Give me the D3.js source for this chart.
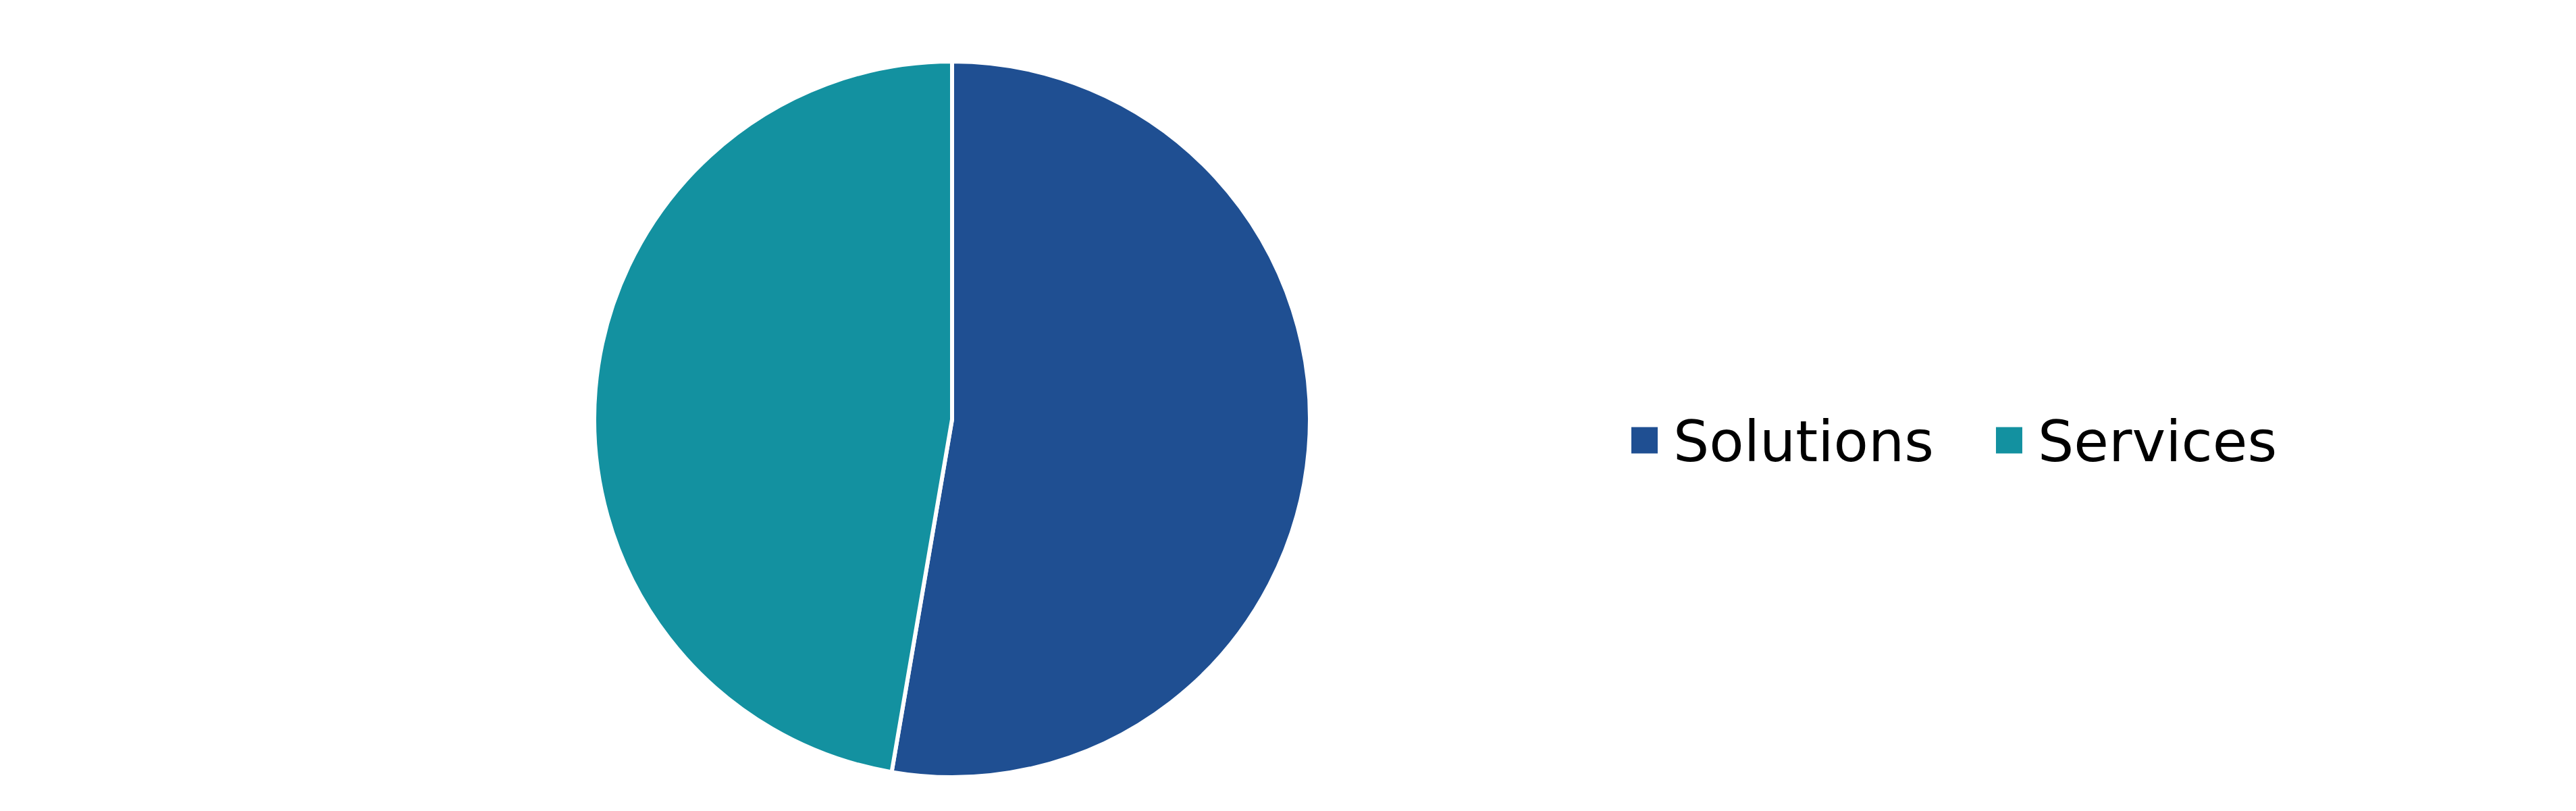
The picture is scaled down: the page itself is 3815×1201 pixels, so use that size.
<!DOCTYPE html>
<meta charset="utf-8">
<head>
  <title>Revenue split (pie)</title>
</head>

<style>
  html, body { margin: 0; padding: 0; background: #fff; }
  svg { display: block; }
</style>

<body>
  <svg width="3815" height="1201"></svg>

  <script src="https://cdn.jsdelivr.net/npm/d3@7"></script>
  <script>

var categories = ["Solutions", "Services"];
var shares = [52.7, 47.3];
var colors = ["#1f4f92", "#1391a0"];

var svg = d3.select("svg");

// pie sits left of centre, legend to the right
var cx = 1410, cy = 621, radius = 530;

var pie = d3.pie().sort(null).value(function(d) { return d.value; });
var arc = d3.arc().innerRadius(0).outerRadius(radius);
var color = d3.scaleOrdinal().domain(categories).range(colors);

var data = categories.map(function(c, i) { return {name: c, value: shares[i]}; });

svg.append("g")
    .attr("transform", "translate(" + cx + "," + cy + ")")
  .selectAll("path")
  .data(pie(data))
  .enter()
  .append("path")
    .attr("d", arc)
    .style("fill", function(d) { return color(d.data.name); })
    .style("stroke", "#fff")
    .style("stroke-width", 6);

// legend
var legend = svg.append("g").attr("transform", "translate(2416,652)");
var box = 39;
var font = "84px 'DejaVu Sans'";
var x = 0;

categories.forEach(function(c) {
  var item = legend.append("g").attr("transform", "translate(" + x + ",0)");
  item.append("rect")
      .attr("x", 0).attr("y", -box / 2)
      .attr("width", box).attr("height", box)
      .style("fill", color(c));
  var t = item.append("text")
      .attr("x", box + 23).attr("y", 31)
      .style("font", font)
      .style("fill", "#000")
      .text(c);
  x += box + 23 + t.node().getComputedTextLength() + 92;
});

  </script>
</body>
</html>
